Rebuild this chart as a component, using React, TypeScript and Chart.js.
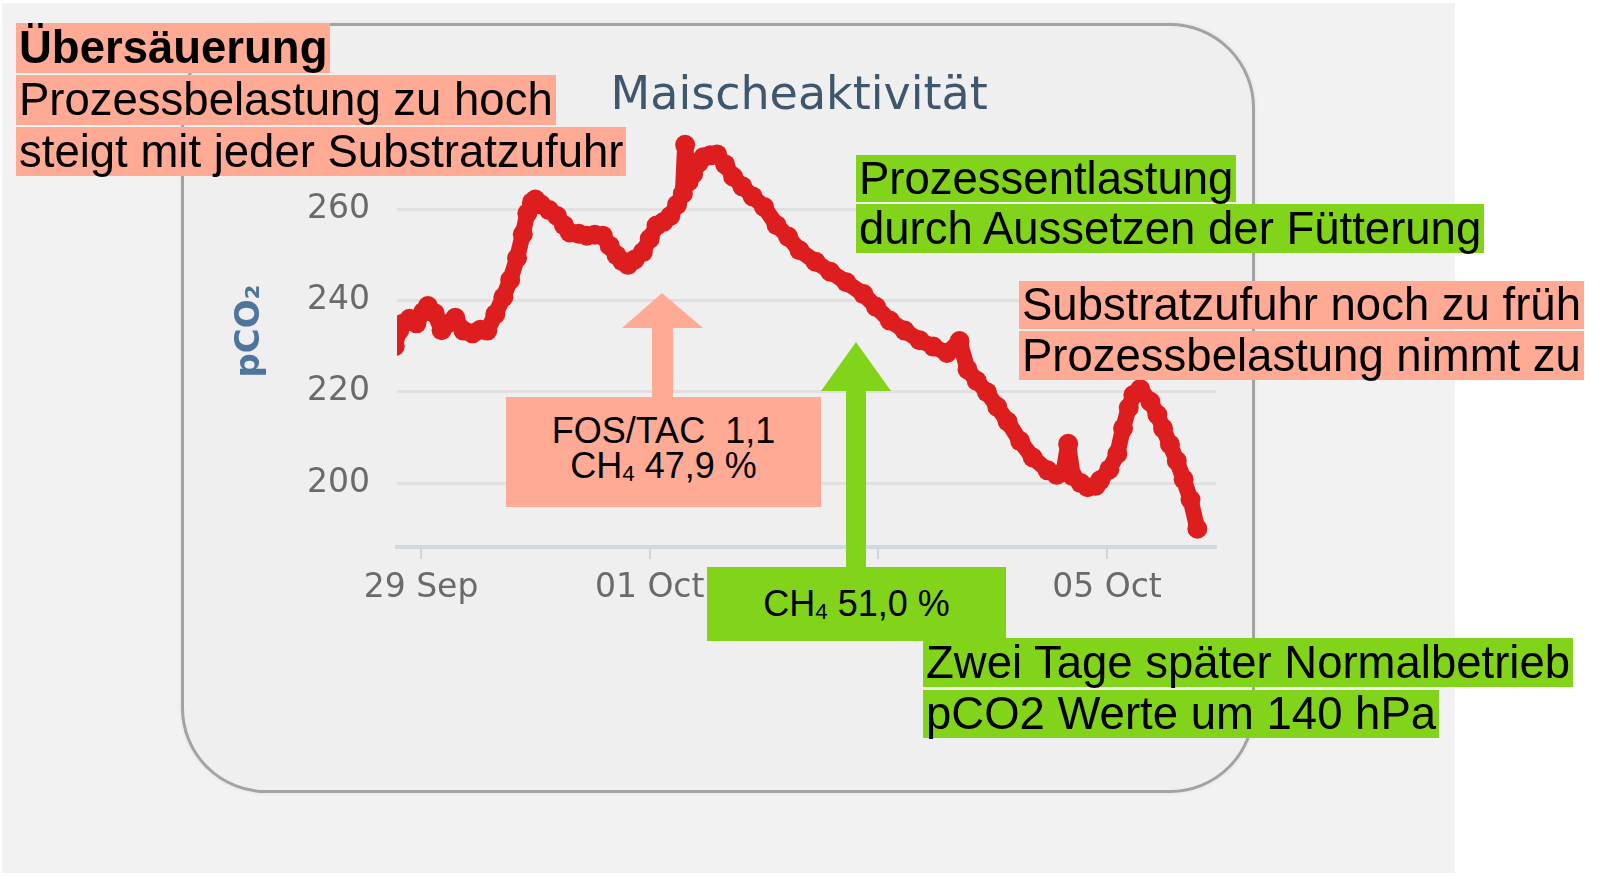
import React, { useEffect, useRef } from 'react';
import { Chart, registerables } from 'chart.js';

Chart.register(...registerables);

// ---- data (days since 29 Sep 00:00, pCO2 values) ----
const DAYS = [
  -0.23, -0.19, -0.16, -0.1, -0.04, 0.02, 0.06, 0.12, 0.18, 0.23, 0.3, 0.37, 0.45, 0.52, 0.58, 0.65, 0.72, 0.78,
  0.84, 0.89, 0.93, 0.97, 1.0, 1.05, 1.12, 1.19, 1.25, 1.3, 1.38, 1.45, 1.52, 1.59, 1.65, 1.71, 1.76, 1.81, 1.87,
  1.94, 2.0, 2.06, 2.12, 2.18, 2.24, 2.29, 2.31, 2.34, 2.38, 2.43, 2.47, 2.53, 2.59, 2.66, 2.73, 2.81, 2.9, 3.0,
  3.11, 3.21, 3.31, 3.45, 3.58, 3.72, 3.87, 3.98, 4.1, 4.23, 4.36, 4.48, 4.6, 4.71, 4.78, 4.86, 4.95, 5.04, 5.13,
  5.24, 5.35, 5.48, 5.56, 5.62, 5.66, 5.7, 5.77, 5.83, 5.9, 5.94, 6.02, 6.09, 6.14, 6.19, 6.23, 6.29, 6.38, 6.44,
  6.49, 6.55, 6.61, 6.67, 6.73, 6.79,
];
const PCO2 = [
  230.0, 233.5, 234.9, 236.0, 235.0, 237.5, 238.8, 237.2, 233.5, 234.9, 236.2, 233.4, 232.8, 233.6, 233.4, 237.0,
  240.7, 244.5, 249.3, 254.5, 259.1, 261.5, 262.1, 261.0, 259.8, 258.5, 256.5, 254.9, 254.6, 254.2, 254.4, 254.2,
  252.0, 249.9, 248.6, 247.8, 249.0, 250.6, 253.5, 256.4, 257.2, 258.5, 261.0, 263.4, 274.1, 266.0, 267.7, 270.2,
  271.4, 271.8, 272.0, 269.8, 267.1, 265.0, 262.8, 260.5, 256.5, 254.0, 251.0, 248.5, 246.3, 244.0, 241.4, 238.6,
  235.6, 233.4, 231.3, 229.9, 228.5, 231.1, 224.9, 222.4, 219.9, 216.7, 213.5, 209.2, 205.6, 202.8, 201.8, 202.4,
  208.6, 201.5, 200.0, 199.1, 199.4, 200.6, 203.0, 206.4, 212.0, 216.5, 219.3, 220.6, 217.8, 215.0, 212.0, 208.5,
  204.9, 200.8, 196.4, 190.0,
];

const TITLE = 'Maischeaktivität ';
const Y_TITLE = ' pCO₂';
const Y_TICKS = [200, 220, 240, 260];
const X_TICK_DAYS = [0, 2, 4, 6];
const X_TICK_LABELS = ['29 Sep', '01 Oct', '03 Oct', '05 Oct'];
const Y_MIN = 186;
const Y_MAX = 278;
const X_MIN = -0.21;
const X_MAX = 6.953;

const SALMON = '#ffaa95';
const GREEN = '#81d41a';
const RED = '#de1e1e';
const TXT_FONT = "'Liberation Sans', Arial, Helvetica, sans-serif";

type LineSpec = { text: React.ReactNode; left: number; top: number; h: number; bold?: boolean; bg: string };

const NOTE_LINES: LineSpec[] = [
  { text: 'Übersäuerung', left: 16, top: 23, h: 50, bold: true, bg: SALMON },
  { text: 'Prozessbelastung zu hoch', left: 16, top: 75, h: 50, bg: SALMON },
  { text: 'steigt mit jeder Substratzufuhr', left: 16, top: 127, h: 49, bg: SALMON },
  { text: 'Prozessentlastung', left: 856, top: 155, h: 47, bg: GREEN },
  { text: 'durch Aussetzen der Fütterung', left: 856, top: 204, h: 49, bg: GREEN },
  { text: 'Substratzufuhr noch zu früh', left: 1019, top: 281, h: 48, bg: SALMON },
  { text: 'Prozessbelastung nimmt zu', left: 1019, top: 331, h: 49, bg: SALMON },
  { text: 'Zwei Tage später Normalbetrieb', left: 923, top: 638, h: 49, bg: GREEN },
  { text: 'pCO2 Werte um 140 hPa', left: 923, top: 690, h: 48, bg: GREEN },
];

const Sub4 = () => <span style={{ fontSize: '0.62em', verticalAlign: '-0.12em' }}>4</span>;

export default function App() {
  const canvasRef = useRef<HTMLCanvasElement>(null);

  useEffect(() => {
    const points = DAYS.map((d, i) => ({ x: d, y: PCO2[i] }));
    const chart = new Chart(canvasRef.current as HTMLCanvasElement, {
      type: 'line',
      data: {
        datasets: [
          {
            data: points,
            borderColor: RED,
            backgroundColor: RED,
            borderWidth: 16,
            pointRadius: 10,
            pointBorderWidth: 0,
            pointBackgroundColor: RED,
            borderJoinStyle: 'round',
            borderCapStyle: 'round',
            tension: 0,
            fill: false,
          },
        ],
      },
      options: {
        animation: false,
        responsive: false,
        events: [],
        layout: { padding: { left: 200, right: 384, top: 40, bottom: 249 } },
        plugins: {
          legend: { display: false },
          tooltip: { enabled: false },
          title: {
            display: true,
            text: TITLE,
            fullSize: false,
            color: '#3e576f',
            font: { family: 'DejaVu Sans', size: 46, weight: 'normal', lineHeight: 1 },
            padding: { top: 34, bottom: 7 },
          },
        },
        scales: {
          x: {
            type: 'linear',
            min: X_MIN,
            max: X_MAX,
            afterBuildTicks: (s: any) => {
              s.ticks = X_TICK_DAYS.map((v) => ({ value: v }));
            },
            afterFit: (s: any) => {
              s.height = 80;
            },
            grid: { drawOnChartArea: false, drawTicks: true, tickLength: 12, color: '#cdd6e0', lineWidth: 2 },
            border: { display: true, color: '#d0d8e2', width: 4 },
            ticks: {
              font: { family: 'DejaVu Sans', size: 33 },
              color: '#6a6a6a',
              padding: 10,
              maxRotation: 0,
              autoSkip: false,
              callback: (v: any) => {
                const i = X_TICK_DAYS.indexOf(Number(v));
                return i >= 0 ? X_TICK_LABELS[i] : '';
              },
            },
          },
          y: {
            type: 'linear',
            min: Y_MIN,
            max: Y_MAX,
            afterBuildTicks: (s: any) => {
              s.ticks = Y_TICKS.map((v) => ({ value: v }));
            },
            afterFit: (s: any) => {
              s.width = 197;
            },
            grid: { color: '#e0e0e0', lineWidth: 3, drawTicks: false },
            border: { display: false },
            ticks: { font: { family: 'DejaVu Sans', size: 33 }, color: '#6a6a6a', padding: 27 },
            title: {
              display: true,
              text: Y_TITLE,
              color: '#4d759e',
              font: { family: 'DejaVu Sans', size: 34, weight: 'bold' },
              padding: { top: 30, bottom: 0 },
            },
          },
        },
      } as any,
    });
    return () => chart.destroy();
  }, []);

  return (
    <div
      style={{
        position: 'absolute',
        left: 0,
        top: 0,
        width: 1600,
        height: 876,
        overflow: 'hidden',
        background: '#ffffff',
      }}
    >
      <div style={{ position: 'absolute', left: 2, top: 3, width: 1453, height: 870, background: '#f2f2f2' }} />
      <div
        style={{
          position: 'absolute',
          left: 181,
          top: 23,
          width: 1074,
          height: 770,
          border: '3px solid #a3a3a3',
          borderRadius: 85,
          background: '#efefef',
          boxSizing: 'border-box',
          boxShadow: '0 0 4px rgba(0,0,0,0.08)',
        }}
      />
      <canvas
        ref={canvasRef}
        width={1600}
        height={876}
        style={{ position: 'absolute', left: 0, top: 0, width: 1600, height: 876 }}
      />
      <svg
        width={1600}
        height={876}
        style={{ position: 'absolute', left: 0, top: 0, pointerEvents: 'none' }}
      >
        <polygon points="662,293 703,328 673,328 673,398 652,398 652,328 622,328" fill={SALMON} />
        <polygon points="856,342 891,391 866,391 866,568 846,568 846,391 821,391" fill={GREEN} />
      </svg>
      {NOTE_LINES.map((l, i) => (
        <div
          key={i}
          style={{
            position: 'absolute',
            left: l.left,
            top: l.top,
            height: l.h,
            lineHeight: `${l.h}px`,
            padding: '0 3px',
            background: l.bg,
            whiteSpace: 'nowrap',
            fontFamily: TXT_FONT,
            fontSize: 45.5,
            fontWeight: l.bold ? 'bold' : 'normal',
            color: '#000',
          }}
        >
          {l.text}
        </div>
      ))}
      <div
        style={{
          position: 'absolute',
          left: 506,
          top: 397,
          width: 315,
          height: 110,
          background: SALMON,
          boxSizing: 'border-box',
          paddingTop: 16,
          textAlign: 'center',
          fontFamily: TXT_FONT,
          fontSize: 36,
          lineHeight: '35px',
          color: '#000',
          whiteSpace: 'pre',
        }}
      >
        <div>{'FOS/TAC  1,1'}</div>
        <div>
          CH<Sub4 /> 47,9 %
        </div>
      </div>
      <div
        style={{
          position: 'absolute',
          left: 707,
          top: 567,
          width: 299,
          height: 74,
          background: GREEN,
          display: 'flex',
          alignItems: 'center',
          justifyContent: 'center',
          fontFamily: TXT_FONT,
          fontSize: 36,
          color: '#000',
          whiteSpace: 'pre',
        }}
      >
        <span>
          CH<Sub4 /> 51,0 %
        </span>
      </div>
    </div>
  );
}
